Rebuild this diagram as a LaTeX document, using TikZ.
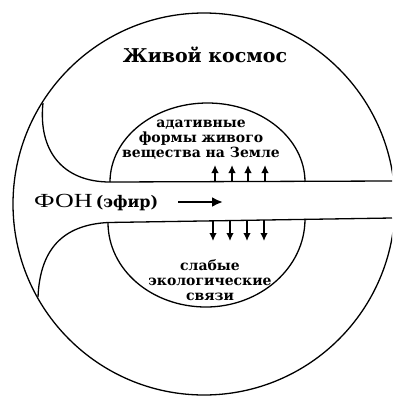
\documentclass[tikz,border=0pt]{standalone}
\usepackage{fontspec}
\setmainfont{DejaVu Serif}
\newfontfamily\fonfont{Liberation Serif}
\usetikzlibrary{arrows.meta}
\tikzset{
  contour/.style={line width=1.3pt, line join=round},
  lbl/.style={font=\bfseries\fontsize{14}{15}\selectfont, align=center, inner sep=0pt},
  smallarrow/.style={line width=1.5pt, -{Latex[length=8pt,width=7.5pt]}},
  bigarrow/.style={line width=2.4pt, -{Latex[length=11pt,width=10pt]}}
}
\begin{document}
\begin{tikzpicture}[x=1pt,y=-1pt]
\useasboundingbox (0,0) rectangle (392,397);
\clip (0,0) rectangle (392,397);
% big circle
\draw[contour] (204,204) circle[radius=191];
% upper boundary of channel
\draw[contour] (43,103) .. controls (38,150) and (62,182) .. (110,182) -- (392,181);
% lower boundary of channel
\draw[contour] (392,218) -- (108,222.5) .. controls (62,225) and (40,250) .. (38,297);
% upper dome
\draw[contour] (110,182) arc[start angle=180, end angle=360, x radius=97.5, y radius=79];
% lower dome
\draw[contour] (108,222.4) .. controls (108,270) and (152,307) .. (206,307)
  .. controls (260,307) and (305,268) .. (305,218.9);
% texts
\node[font=\bfseries\fontsize{19}{21}\selectfont, inner sep=0pt] (cosmos) at (205,55) {Живой космос};
\node[lbl] (adapt) at (201,140) {адативные\\формы живого\\вещества на Земле};
\node[lbl] (weak) at (210,280) {слабые\\экологические\\связи};
\node[anchor=west, inner sep=0pt] (fon) at (34,203) {\scalebox{1.3}[1]{\fonfont\fontsize{20}{22}\selectfont ФОН}\ \bfseries\fontsize{16}{18}\selectfont (эфир)};
\coordinate (a0) at (178,202);
\coordinate (a1) at (223,202);
\draw[bigarrow] (a0) -- (a1);
% up arrows
\foreach \x/\n in {215/1,232/2,248/3,265/4}{
  \coordinate (u\n s) at (\x,182);
  \coordinate (u\n e) at (\x,165);
  \draw[smallarrow] (u\n s) -- (u\n e);
}
% down arrows
\foreach \x/\n in {213/1,230/2,247/3,264/4}{
  \coordinate (d\n s) at (\x,220);
  \coordinate (d\n e) at (\x,241);
  \draw[smallarrow] (d\n s) -- (d\n e);
}
\end{tikzpicture}
\end{document}
